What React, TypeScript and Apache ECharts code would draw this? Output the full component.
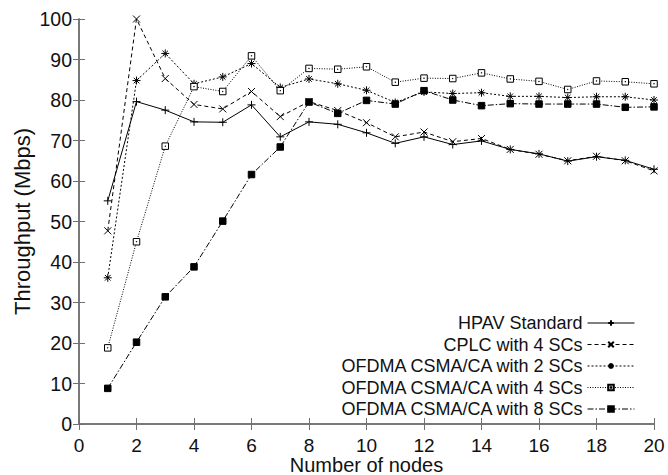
import React, { useEffect, useRef } from "react";
import * as echarts from "echarts";

const nodes = [1, 2, 3, 4, 5, 6, 7, 8, 9, 10, 11, 12, 13, 14, 15, 16, 17, 18, 19, 20];
const hpav = [55.1, 79.6, 77.5, 74.6, 74.5, 78.8, 70.9, 74.6, 74.0, 71.9, 69.3, 70.9, 69.0, 69.9, 67.8, 66.7, 64.9, 66.0, 65.1, 62.9];
const cplc4 = [47.7, 100, 85.3, 78.9, 77.8, 82.1, 75.9, 79.6, 77.4, 74.4, 70.9, 72.1, 69.7, 70.5, 67.8, 66.6, 65.0, 66.1, 65.0, 62.5];
const ofdma2 = [36.1, 84.8, 91.5, 84.0, 85.7, 89.0, 83.1, 85.2, 84.0, 82.4, 79.4, 82.0, 81.6, 81.8, 80.9, 80.9, 80.6, 80.8, 80.8, 80.0];
const ofdma4 = [18.8, 45.0, 68.6, 83.3, 82.1, 90.9, 82.3, 87.8, 87.6, 88.2, 84.4, 85.4, 85.3, 86.7, 85.2, 84.6, 82.6, 84.7, 84.5, 84.0];
const ofdma8 = [8.8, 20.2, 31.4, 38.8, 50.1, 61.6, 68.4, 79.5, 76.7, 79.9, 79.0, 82.3, 80.0, 78.6, 79.1, 79.0, 79.0, 79.0, 78.2, 78.3];
const xTicks = [0, 20, 2];
const yTicks = [0, 100, 10];

const seriesNames = [
  "HPAV Standard",
  "CPLC with 4 SCs",
  "OFDMA CSMA/CA with 2 SCs",
  "OFDMA CSMA/CA with 4 SCs",
  "OFDMA CSMA/CA with 8 SCs",
];

const FONT = "'Liberation Sans', Arial, sans-serif";
const AXIS_COLOR = "#707070";

export default function App() {
  const ref = useRef<HTMLDivElement>(null);
  useEffect(() => {
    if (!ref.current) return;
    const chart = echarts.init(ref.current, undefined, { renderer: "svg" });
    const pair = (arr: number[]) => nodes.map((n, i) => [n, arr[i]]);
    const styles = [
      { data: hpav, symbol: "path://M0,5H10M5,0V10", size: 8, dash: "solid", fill: "#000" },
      { data: cplc4, symbol: "path://M0,0L10,10M10,0L0,10", size: 7, dash: [4, 3], fill: "#000" },
      {
        data: ofdma2,
        symbol: "path://M0,5H10M5,0V10M1.5,1.5L8.5,8.5M8.5,1.5L1.5,8.5",
        size: 8,
        dash: [2, 2],
        fill: "#000",
      },
      { data: ofdma4, symbol: "path://M0,0H10V10H0Z M4.6,4.6H5.4V5.4H4.6Z", size: 6.5, dash: [1, 1.5], fill: "#fff" },
      { data: ofdma8, symbol: "rect", size: 6.5, dash: [6, 2, 1.5, 2], fill: "#000" },
    ];
    const axisLine = { show: true, lineStyle: { color: AXIS_COLOR, width: 1.5 } };
    const tick = { show: true, inside: true, length: 6, lineStyle: { color: AXIS_COLOR, width: 1 } };
    chart.setOption({
      animation: false,
      backgroundColor: "#fff",
      textStyle: { fontFamily: FONT },
      grid: { left: 79, right: 14, top: 19, bottom: 51, containLabel: false, outerBoundsMode: "none" },
      legend: {
        orient: "vertical",
        right: 28,
        bottom: 52,
        align: "right",
        itemWidth: 47,
        itemHeight: 7,
        itemGap: 3.5,
        lineStyle: { width: 1 },
        textStyle: { fontFamily: FONT, fontSize: 18, color: "#111" },
        data: seriesNames,
      },
      xAxis: [
        {
          type: "value",
          min: xTicks[0],
          max: xTicks[1],
          interval: xTicks[2],
          position: "bottom",
          axisLine,
          axisTick: tick,
          splitLine: { show: false },
          axisLabel: { fontFamily: FONT, fontSize: 19, color: "#111", margin: 12 },
          name: "Number of nodes",
          nameLocation: "middle",
          nameGap: 31,
          nameMoveOverlap: false,
          nameTextStyle: { fontFamily: FONT, fontSize: 20, color: "#111" },
        },
        {
          type: "value",
          min: xTicks[0],
          max: xTicks[1],
          interval: xTicks[2],
          position: "top",
          axisLine,
          axisTick: tick,
          splitLine: { show: false },
          axisLabel: { show: false },
        },
      ],
      yAxis: [
        {
          type: "value",
          min: yTicks[0],
          max: yTicks[1],
          interval: yTicks[2],
          position: "left",
          axisLine,
          axisTick: tick,
          splitLine: { show: false },
          axisLabel: { fontFamily: FONT, fontSize: 19.5, color: "#111", margin: 7 },
          name: "Throughput (Mbps)",
          nameLocation: "middle",
          nameGap: 46,
          nameMoveOverlap: false,
          nameTextStyle: { fontFamily: FONT, fontSize: 22, color: "#111" },
        },
        {
          type: "value",
          min: yTicks[0],
          max: yTicks[1],
          interval: yTicks[2],
          position: "right",
          axisLine,
          axisTick: tick,
          splitLine: { show: false },
          axisLabel: { show: false },
        },
      ],
      series: styles.map((s, i) => ({
        name: seriesNames[i],
        type: "line",
        data: pair(s.data),
        symbol: s.symbol,
        symbolSize: s.size,
        showAllSymbol: true,
        lineStyle: { color: "#000", width: 1, type: s.dash },
        itemStyle: { color: s.fill, borderColor: "#000", borderWidth: 1 },
        emphasis: { disabled: true },
      })),
    });
    return () => chart.dispose();
  }, []);
  return <div ref={ref} style={{ width: 668, height: 475, position: "absolute", left: 0, top: 0 }} />;
}
